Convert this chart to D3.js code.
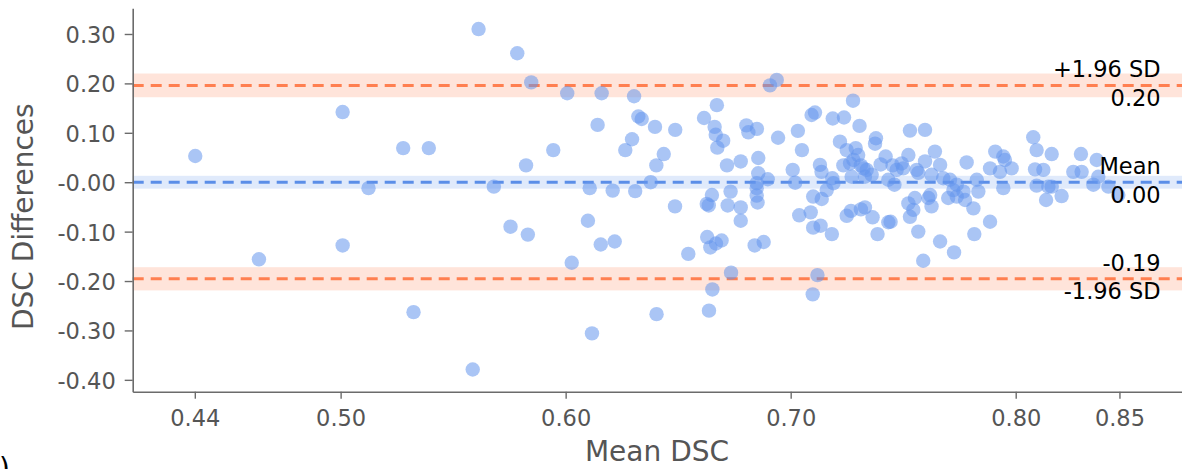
<!DOCTYPE html>
<html>
<head>
<meta charset="utf-8">
<script src="https://cdn.jsdelivr.net/npm/d3@7"></script>
<style>
  html, body { margin: 0; padding: 0; background: #fff; }
  svg { display: block; font-family: "DejaVu Sans", sans-serif; }
</style>
</head>
<body>
<svg id="chart" width="1182" height="469"></svg>
<script>
// ---- data ----
const meanDSC = [
  0.4354, 0.5009, 0.5124, 0.5278, 0.5392, 0.5613, 0.5681, 0.5785, 0.5824, 0.4637,
  0.5009, 0.5755, 0.5324, 0.5587, 0.5847, 0.6007, 0.6160, 0.6304, 0.6142, 0.5945,
  0.6323, 0.6338, 0.6397, 0.6487, 0.6295, 0.6265, 0.6436, 0.6403, 0.6378, 0.6107,
  0.6209, 0.6309, 0.6615, 0.6672, 0.6662, 0.6667, 0.6700, 0.6674, 0.6717, 0.6778,
  0.6803, 0.6812, 0.6850, 0.6856, 0.6856, 0.6898, 0.6849, 0.6849, 0.6650, 0.6733,
  0.6908, 0.6938, 0.6944, 0.7032, 0.7050, 0.7009, 0.7020, 0.7093, 0.7108, 0.7187,
  0.7237, 0.7277, 0.7306, 0.7219, 0.7249, 0.7289, 0.7300, 0.7234, 0.7264, 0.7279,
  0.7312, 0.7338, 0.7271, 0.7360, 0.7379, 0.7375, 0.7422, 0.7400, 0.7453, 0.7471,
  0.7434, 0.7461, 0.7130, 0.7137, 0.7185, 0.7190, 0.7100, 0.7160, 0.5832, 0.6099,
  0.6027, 0.6156, 0.6218, 0.6486, 0.6545, 0.6404, 0.6117, 0.6627, 0.6636, 0.6720,
  0.6778, 0.6778, 0.6853, 0.6849, 0.6629, 0.6643, 0.6668, 0.6693, 0.6840, 0.6880,
  0.6735, 0.6652, 0.6637, 0.7138, 0.7038, 0.7089, 0.7100, 0.7133, 0.7183, 0.7249,
  0.7268, 0.7312, 0.7330, 0.7364, 0.7386, 0.7434, 0.7444, 0.7119, 0.7098, 0.7530,
  0.7597, 0.7323, 0.7330, 0.7493, 0.7500, 0.7523, 0.7560, 0.7597, 0.7641, 0.7664,
  0.7567, 0.7626, 0.7678, 0.7708, 0.7738, 0.7723, 0.7768, 0.7775, 0.7700, 0.7738,
  0.7827, 0.7834, 0.7782, 0.7812, 0.7886, 0.7816, 0.7664, 0.7726, 0.7589, 0.7567,
  0.7523, 0.7545, 0.7530, 0.7552, 0.7612, 0.7626, 0.7620, 0.7909, 0.7945, 0.7952,
  0.7886, 0.7930, 0.7982, 0.7945, 0.8078, 0.8093, 0.8160, 0.8086, 0.8123, 0.8093,
  0.8145, 0.8160, 0.8135, 0.8204, 0.8256, 0.8293, 0.8290, 0.8360, 0.8345, 0.8367,
  0.8412, 0.8456
];
const diffDSC = [
  0.053, 0.142, -0.012, 0.069, 0.069, 0.310, -0.009, 0.261, 0.034, -0.156,
  -0.128, -0.090, -0.263, -0.379, 0.202, 0.180, 0.180, 0.174, 0.116, 0.065,
  0.133, 0.128, 0.112, 0.106, 0.087, 0.065, 0.057, 0.034, 0.000, -0.012,
  -0.017, -0.018, 0.130, 0.156, 0.112, 0.096, 0.084, 0.070, 0.034, 0.042,
  0.115, 0.101, 0.108, 0.049, 0.018, 0.006, -0.002, -0.012, -0.026, -0.019,
  0.196, 0.207, 0.090, 0.104, 0.065, 0.025, -0.001, 0.136, 0.141, 0.129,
  0.131, 0.165, 0.114, 0.082, 0.065, 0.069, 0.055, 0.034, 0.038, 0.045,
  0.034, 0.025, 0.011, 0.015, 0.089, 0.078, 0.052, 0.036, 0.034, 0.025,
  0.005, -0.005, 0.035, 0.021, 0.008, -0.002, -0.029, -0.016, -0.106, -0.078,
  -0.163, -0.126, -0.120, -0.049, -0.145, -0.267, -0.306, -0.044, -0.047, -0.047,
  -0.051, -0.078, -0.041, -0.027, -0.111, -0.132, -0.124, -0.118, -0.128, -0.121,
  -0.183, -0.217, -0.260, -0.034, -0.067, -0.061, -0.092, -0.088, -0.105, -0.068,
  -0.058, -0.055, -0.051, -0.071, -0.105, -0.081, -0.080, -0.188, -0.227, 0.1045,
  0.106, 0.028, 0.011, 0.038, 0.028, 0.055, 0.025, 0.042, 0.062, 0.035,
  0.019, 0.015, 0.008, 0.005, -0.005, -0.016, -0.019, -0.036, -0.032, -0.029,
  0.005, -0.019, 0.040, -0.053, -0.080, -0.105, -0.120, -0.142, -0.159, -0.100,
  -0.043, -0.056, -0.070, -0.032, -0.032, -0.049, -0.026, 0.062, 0.052, 0.045,
  0.028, 0.021, 0.028, -0.012, 0.091, 0.065, 0.057, 0.026, 0.025, -0.007,
  -0.009, -0.009, -0.036, -0.028, 0.021, 0.021, 0.057, 0.045, -0.005, 0.011,
  -0.009, -0.026
];

// Reference lines (mean and limits of agreement) and their confidence bands
const meanDiff = 0.0;
const upperLoA = 0.196;
const lowerLoA = -0.1955;
const meanCI = [-0.013, 0.013];
const upperCI = [0.172, 0.220];
const lowerCI = [-0.219, -0.172];

const lineLabelsAbove = ["+1.96 SD", "Mean", "-0.19"];
const lineLabelsBelow = ["0.20", "0.00", "-1.96 SD"];

const xTicks = [0.4352, 0.50, 0.60, 0.70, 0.80, 0.8461];
const xTickLabels = ["0.44", "0.50", "0.60", "0.70", "0.80", "0.85"];
const yTicks = [0.30, 0.20, 0.10, -0.00001, -0.10, -0.20, -0.30, -0.40];
const yTickLabels = ["0.30", "0.20", "0.10", "-0.00", "-0.10", "-0.20", "-0.30", "-0.40"];

const xTitle = "Mean DSC";
const yTitle = "DSC Differences";
const panelMark = ")";

// ---- layout ----
const svg = d3.select("#chart");
const plotLeft = 132.7, plotRight = 1182, plotTop = 8.3, plotBottom = 391.7;

const x = d3.scaleLinear().domain([0.4076, 0.8739]).range([plotLeft, plotRight]);
const y = d3.scaleLinear().domain([-0.424, 0.352]).range([plotBottom, plotTop]);

const orange = "#ff7f50";
const orangeBand = "#ffe4da";
const blue = "#5b8ee8";
const blueBand = "#e0eafb";
const pointColor = "#6495ed";
const axisColor = "#6b6b6b";
const tickTextColor = "#555555";

// bands
const bands = [
  { ci: upperCI, color: orangeBand },
  { ci: meanCI, color: blueBand },
  { ci: lowerCI, color: orangeBand }
];
svg.append("g").selectAll("rect").data(bands).join("rect")
  .attr("x", plotLeft)
  .attr("width", plotRight - plotLeft)
  .attr("y", d => y(d.ci[1]))
  .attr("height", d => y(d.ci[0]) - y(d.ci[1]))
  .attr("fill", d => d.color);

// lines
const refLines = [
  { v: upperLoA, color: orange },
  { v: meanDiff, color: blue },
  { v: lowerLoA, color: orange }
];
svg.append("g").selectAll("line").data(refLines).join("line")
  .attr("x1", plotLeft).attr("x2", plotRight)
  .attr("y1", d => y(d.v)).attr("y2", d => y(d.v))
  .attr("stroke", d => d.color)
  .attr("stroke-width", 3)
  .attr("stroke-dasharray", "11,7");

// points
const pts = meanDSC.map((m, i) => ({ m, d: diffDSC[i] }));
svg.append("g").selectAll("circle").data(pts).join("circle")
  .attr("cx", d => x(d.m))
  .attr("cy", d => y(d.d))
  .attr("r", 7.2)
  .attr("fill", pointColor)
  .attr("fill-opacity", 0.55);

// line annotations
const annX = plotRight - 21.3;
const annG = svg.append("g")
  .attr("font-size", "22.5px")
  .attr("fill", "#000")
  .attr("text-anchor", "end");
refLines.forEach((l, i) => {
  annG.append("text")
    .attr("x", annX)
    .attr("y", y(l.v) - 8)
    .text(lineLabelsAbove[i]);
  annG.append("text")
    .attr("x", annX)
    .attr("y", y(l.v) + 20.5)
    .text(lineLabelsBelow[i]);
});

// axes
const xAxis = d3.axisBottom(x)
  .tickValues(xTicks)
  .tickFormat((d, i) => xTickLabels[i])
  .tickSizeInner(7).tickSizeOuter(0).tickPadding(10);
const yAxis = d3.axisLeft(y)
  .tickValues(yTicks)
  .tickFormat((d, i) => yTickLabels[i])
  .tickSizeInner(8).tickSizeOuter(0).tickPadding(9);

const gx = svg.append("g").attr("transform", `translate(0,${plotBottom})`).call(xAxis);
const gy = svg.append("g").attr("transform", `translate(${plotLeft},0)`).call(yAxis);

[gx, gy].forEach(g => {
  g.select(".domain").attr("stroke", axisColor).attr("stroke-width", 1.6);
  g.selectAll(".tick line").attr("stroke", axisColor).attr("stroke-width", 1.4);
  g.selectAll(".tick text")
    .attr("fill", tickTextColor)
    .attr("font-size", "22.5px")
    .attr("font-family", "DejaVu Sans, sans-serif");
});
gy.selectAll(".tick text").attr("dy", "0.38em");
gx.selectAll(".tick text").attr("dy", "0.75em");

// axis titles
svg.append("text")
  .attr("x", 657)
  .attr("y", 461)
  .attr("text-anchor", "middle")
  .attr("font-size", "28px")
  .attr("fill", tickTextColor)
  .text(xTitle);

svg.append("text")
  .attr("transform", "translate(33,216.7) rotate(-90)")
  .attr("text-anchor", "middle")
  .attr("font-size", "28px")
  .attr("fill", tickTextColor)
  .text(yTitle);

// panel marker at bottom-left (only its top shows in the reference)
svg.append("text")
  .attr("x", -1)
  .attr("y", 478)
  .attr("font-size", "28px")
  .attr("fill", "#000")
  .text(panelMark);
</script>
</body>
</html>
